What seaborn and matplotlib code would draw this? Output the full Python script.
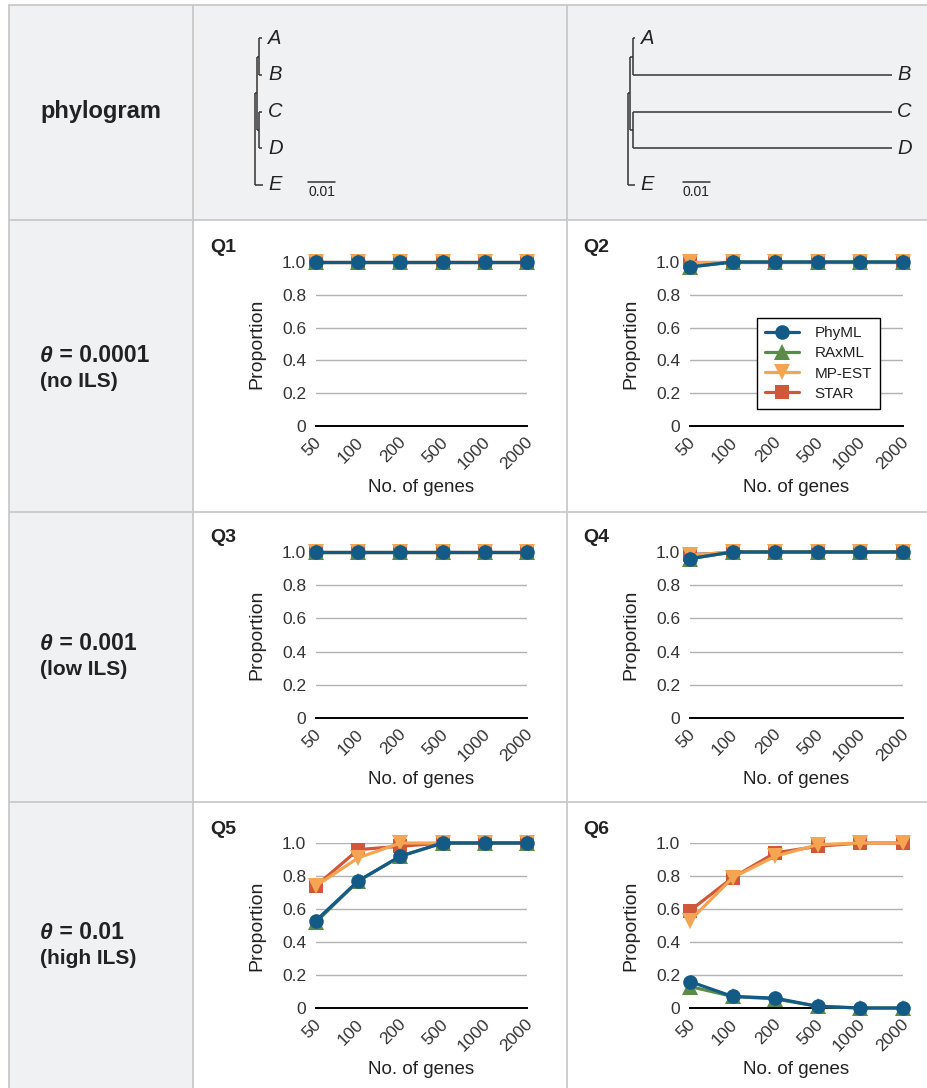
import numpy as np
import matplotlib
matplotlib.use("Agg")
import matplotlib.pyplot as plt
import seaborn as sns
from matplotlib.patches import Rectangle
from matplotlib.transforms import ScaledTranslation

sns.set_theme(style="white")
plt.rcParams["font.family"] = ["Liberation Sans", "DejaVu Sans"]

# ---------------------------------------------------------------- data
gene_counts = ["50", "100", "200", "500", "1000", "2000"]
methods = ["PhyML", "RAxML", "MP-EST", "STAR"]

q1 = {"PhyML":  [1.0, 1.0, 1.0, 1.0, 1.0, 1.0],
      "RAxML":  [1.0, 1.0, 1.0, 1.0, 1.0, 1.0],
      "MP-EST": [1.0, 1.0, 1.0, 1.0, 1.0, 1.0],
      "STAR":   [1.0, 1.0, 1.0, 1.0, 1.0, 1.0]}
q2 = {"PhyML":  [0.97, 1.0, 1.0, 1.0, 1.0, 1.0],
      "RAxML":  [0.97, 1.0, 1.0, 1.0, 1.0, 1.0],
      "MP-EST": [1.0, 1.0, 1.0, 1.0, 1.0, 1.0],
      "STAR":   [1.0, 1.0, 1.0, 1.0, 1.0, 1.0]}
q3 = {"PhyML":  [1.0, 1.0, 1.0, 1.0, 1.0, 1.0],
      "RAxML":  [1.0, 1.0, 1.0, 1.0, 1.0, 1.0],
      "MP-EST": [1.0, 1.0, 1.0, 1.0, 1.0, 1.0],
      "STAR":   [1.0, 1.0, 1.0, 1.0, 1.0, 1.0]}
q4 = {"PhyML":  [0.96, 1.0, 1.0, 1.0, 1.0, 1.0],
      "RAxML":  [0.96, 1.0, 1.0, 1.0, 1.0, 1.0],
      "MP-EST": [0.98, 1.0, 1.0, 1.0, 1.0, 1.0],
      "STAR":   [0.98, 1.0, 1.0, 1.0, 1.0, 1.0]}
q5 = {"PhyML":  [0.53, 0.77, 0.92, 1.0, 1.0, 1.0],
      "RAxML":  [0.52, 0.77, 0.92, 1.0, 1.0, 1.0],
      "MP-EST": [0.74, 0.91, 1.0, 1.0, 1.0, 1.0],
      "STAR":   [0.74, 0.96, 0.98, 1.0, 1.0, 1.0]}
q6 = {"PhyML":  [0.16, 0.07, 0.06, 0.01, 0.0, 0.0],
      "RAxML":  [0.13, 0.07, 0.055, 0.01, 0.0, 0.0],
      "MP-EST": [0.53, 0.79, 0.92, 0.99, 1.0, 1.0],
      "STAR":   [0.59, 0.79, 0.94, 0.98, 1.0, 1.0]}

row_titles = [("θ", " = 0.0001", "(no ILS)"),
              ("θ", " = 0.001", "(low ILS)"),
              ("θ", " = 0.01", "(high ILS)")]

# species trees (branch lengths in substitutions per site)
tip_labels = ["A", "B", "C", "D", "E"]
node_parent = {"A": "AB", "B": "AB", "C": "CD", "D": "CD",
               "AB": "ABCD", "CD": "ABCD", "ABCD": "root", "E": "root"}
left_tree_lengths = {"ABCD": 0.00086, "AB": 0.00074, "CD": 0.00074,
                     "A": 0.0012, "B": 0.0012, "C": 0.0012, "D": 0.0012,
                     "E": 0.0031}
right_tree_lengths = {"ABCD": 0.00086, "AB": 0.001, "CD": 0.001,
                      "A": 0.001, "B": 0.097, "C": 0.097, "D": 0.097,
                      "E": 0.0028}
scale_bar_length = 0.01

# ---------------------------------------------------------------- style
colors = {"PhyML": "#145a86", "RAxML": "#5b8c47",
          "MP-EST": "#f5a452", "STAR": "#d0573a"}
markers = {"PhyML": "o", "RAxML": "^", "MP-EST": "v", "STAR": "s"}
marker_sizes = {"PhyML": 10.5, "RAxML": 11, "MP-EST": 11.5, "STAR": 9.5}
draw_order = ["STAR", "MP-EST", "RAxML", "PhyML"]

SHADE = "#f0f1f3"
BORDER = "#c9c9c9"
TEXT = "#222222"

W, H = 928, 1088
fig = plt.figure(figsize=(W / 100, H / 100), dpi=100)
fig.patch.set_facecolor("white")


def px_rect(x0, y0, x1, y1):
    return [x0 / W, 1 - y1 / H, (x1 - x0) / W, (y1 - y0) / H]


# ---------------------------------------------------------------- table
bg = fig.add_axes([0, 0, 1, 1])
bg.set_xlim(0, W)
bg.set_ylim(H, 0)
bg.axis("off")

col_edges = [9, 193, 567, 930]
row_edges = [5, 220, 512, 802, 1092]
bg.add_patch(Rectangle((col_edges[0], row_edges[0]), W, row_edges[1] - row_edges[0],
                       facecolor=SHADE, edgecolor="none"))
bg.add_patch(Rectangle((col_edges[0], row_edges[1]), col_edges[1] - col_edges[0],
                       H - row_edges[1], facecolor=SHADE, edgecolor="none"))
for x in col_edges[:3]:
    bg.plot([x, x], [row_edges[0], H], color=BORDER, lw=1.3)
for y in row_edges[:4]:
    bg.plot([col_edges[0], W], [y, y], color=BORDER, lw=1.3)

bg.text(40, 118, "phylogram", fontsize=17, fontweight="bold", color=TEXT,
        ha="left", va="baseline")

title_baselines = [(362, 387), (650, 675), (939, 964)]
for (sym, rest, sub), (b1, b2) in zip(row_titles, title_baselines):
    t = bg.text(40, b1, sym, fontsize=16.5, fontweight="bold", fontstyle="italic",
                color=TEXT, ha="left", va="baseline")
    bg.annotate(rest, xy=(1, 0), xycoords=t, fontsize=16.5, fontweight="bold",
                color=TEXT, ha="left", va="bottom")
    bg.text(40, b2, sub, fontsize=15, fontweight="bold", color=TEXT,
            ha="left", va="baseline")


# ---------------------------------------------------------------- trees
def node_depths(lengths):
    depth = {"root": 0.0}

    def get(n):
        if n not in depth:
            depth[n] = get(node_parent[n]) + lengths[n]
        return depth[n]

    for n in node_parent:
        get(n)
    return depth


def node_heights():
    y = {name: i for i, name in enumerate(tip_labels)}
    children = {}
    for c, p in node_parent.items():
        children.setdefault(p, []).append(c)

    def get(n):
        if n not in y:
            y[n] = np.mean([get(c) for c in children[n]])
        return y[n]

    get("root")
    return y, children


def draw_tree(ax, lengths, bar_start):
    depth = node_depths(lengths)
    ys, children = node_heights()
    kw = dict(color="#333333", lw=1.1, clip_on=False, solid_capstyle="butt")
    for child, parent in node_parent.items():
        ax.plot([depth[parent], depth[child]], [ys[child], ys[child]], **kw)
    for parent, kids in children.items():
        kid_y = [ys[k] for k in kids]
        ax.plot([depth[parent], depth[parent]], [min(kid_y), max(kid_y)], **kw)
    for tip in tip_labels:
        ax.annotate(tip, xy=(depth[tip], ys[tip]), xytext=(4, 0),
                    textcoords="offset points", fontsize=14.5,
                    fontstyle="italic", color=TEXT, ha="left", va="center")
    ax.plot([bar_start, bar_start + scale_bar_length], [3.92, 3.92],
            color="#333333", lw=1.1, clip_on=False)
    ax.text(bar_start + scale_bar_length / 2, 4.2, f"{scale_bar_length:g}",
            fontsize=10, color=TEXT, ha="center", va="center")
    ax.set_xlim(0, 0.1)
    ax.set_ylim(4, 0)
    ax.axis("off")


px_per_unit = 2670
for root_px, lengths, bar_start in [(255, left_tree_lengths, 0.02),
                                    (627.7, right_tree_lengths, 0.0207)]:
    tax = fig.add_axes(px_rect(root_px, 38.3, root_px + 0.1 * px_per_unit, 185))
    draw_tree(tax, lengths, bar_start)

# ---------------------------------------------------------------- panels
panels = [("Q1", q1), ("Q2", q2), ("Q3", q3), ("Q4", q4), ("Q5", q5), ("Q6", q6)]
col_x = [(316, 527), (690, 903)]
row_y = [(262, 426), (552, 718), (843, 1008)]
gene_pos = np.arange(len(gene_counts))

for i, (name, series) in enumerate(panels):
    r, c = divmod(i, 2)
    x0, x1 = col_x[c]
    y0, y1 = row_y[r]
    ax = fig.add_axes(px_rect(x0, y0, x1, y1))
    ax.patch.set_alpha(0)

    for z, m in enumerate(draw_order):
        sns.lineplot(x=gene_pos, y=series[m], ax=ax, color=colors[m],
                     marker=markers[m], markersize=marker_sizes[m],
                     markeredgewidth=0, markeredgecolor=colors[m],
                     linewidth=2.3, label=m, clip_on=False, zorder=3 + z)
    if ax.get_legend() is not None:
        ax.get_legend().remove()

    ax.set_xlim(0, len(gene_counts) - 1)
    ax.set_ylim(0, 1)
    ax.set_yticks([0, 0.2, 0.4, 0.6, 0.8, 1.0],
                  ["0", "0.2", "0.4", "0.6", "0.8", "1.0"])
    ax.set_xticks(gene_pos, gene_counts, rotation=45, ha="right",
                  rotation_mode="anchor", va="center")
    ax.tick_params(axis="both", length=0, labelsize=12.5, colors="#333333")
    ax.tick_params(axis="y", pad=7)
    ax.tick_params(axis="x", pad=10)
    for lab in ax.get_xticklabels():
        lab.set_transform(lab.get_transform()
                          + ScaledTranslation(2 / 72, 0, fig.dpi_scale_trans))
    ax.yaxis.grid(True, color="#b2b2b2", lw=1.0)
    ax.set_axisbelow(True)
    sns.despine(ax=ax, left=True)
    ax.spines["bottom"].set_color("black")
    ax.spines["bottom"].set_linewidth(1.4)
    ax.spines["bottom"].set_zorder(2)

    ax.set_ylabel("Proportion", fontsize=14, color=TEXT)
    ax.yaxis.set_label_coords(-59 / (x1 - x0), 0.5)
    ax.yaxis.label.set_va("center")
    ax.set_xlabel("No. of genes", fontsize=13.5, color=TEXT)
    ax.xaxis.set_label_coords(0.5, -(487 - 426) / (y1 - y0))
    ax.xaxis.label.set_va("center")

    bg.text(x0 - 106 if c == 0 else x0 - 107, y0 - 14, name, fontsize=14,
            fontweight="bold", color=TEXT, ha="left", va="center")

    if name == "Q2":
        handles, labels = ax.get_legend_handles_labels()
        lookup = dict(zip(labels, handles))
        leg = ax.legend([lookup[m] for m in methods], methods,
                        loc="upper left", bbox_to_anchor=(0.315, 0.659),
                        frameon=True, fancybox=False, edgecolor="black",
                        framealpha=1, fontsize=11, handlelength=2.2,
                        handletextpad=1.0, labelspacing=0.4, borderpad=0.55,
                        borderaxespad=0)
        leg.get_frame().set_linewidth(1.0)
        for txt in leg.get_texts():
            txt.set_color(TEXT)

fig.savefig("out.png", dpi=100)
